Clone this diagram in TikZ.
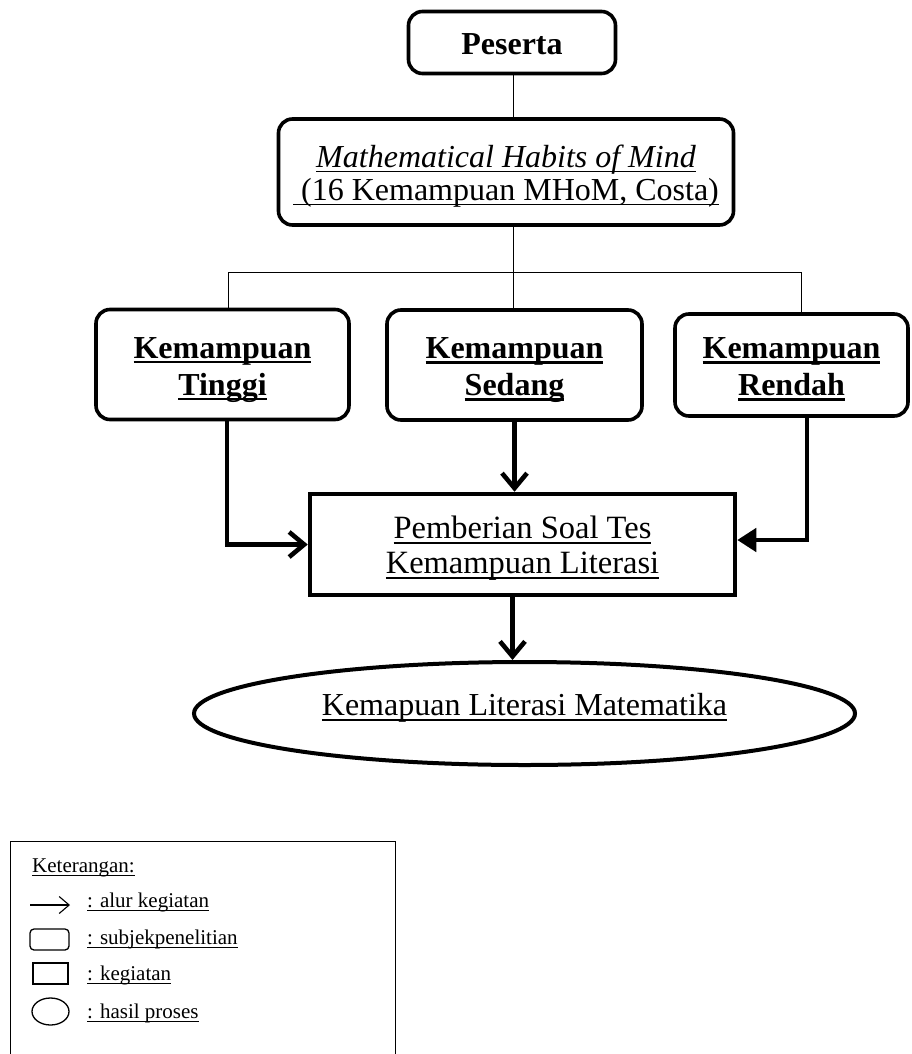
\documentclass[tikz,border=0pt]{standalone}
\usepackage{fontspec}
\setmainfont{Liberation Serif}
\usetikzlibrary{arrows.meta,shapes.geometric}
\newcommand\undl[2][1.6pt]{\leavevmode\setbox0\hbox{#2}\rlap{\copy0}\rule[-0.17em]{\wd0}{#1}}

\begin{document}
\begin{tikzpicture}[x=1pt,y=-1pt,
  subjek/.style={draw,line width=3.6pt,rounded corners=14pt,align=center,inner sep=0pt,text height=68pt,text depth=7pt,font=\fontsize{32}{37}\selectfont\bfseries},
  kegiatan/.style={draw,line width=4.5pt,align=center,inner sep=0pt,text height=64pt,text depth=7pt,font=\fontsize{32.5}{35}\selectfont},
  hasil/.style={draw,ellipse,line width=4pt,inner sep=0pt,text depth=18.5pt,font=\fontsize{32}{35}\selectfont},
  link/.style={line width=0.9pt},
  flow/.style={line width=4.6pt,-{Straight Barb[length=15pt,width=25pt]}},
  flowfill/.style={line width=4.6pt,-{Triangle[length=19pt,width=23pt]}},
  leg/.style={inner sep=0pt,font=\fontsize{21}{24}\selectfont}]
\useasboundingbox (0,0) rectangle (912,1054);
\clip (0,0) rectangle (912,1054);

\node[subjek,text height=30pt,text depth=5.4pt,minimum width=207pt,minimum height=62pt] (peserta) at (512,42.5) {\undl[0pt]{Peserta}};
\node[subjek,text height=63pt,font=\fontsize{32}{33}\selectfont,minimum width=455pt,minimum height=106pt] (mhom) at (506,172)
  {\undl[1.6pt]{\itshape Mathematical Habits of Mind}\\ \undl[1.6pt]{\ (16 Kemampuan MHoM, Costa)}};
\node[subjek,minimum width=253pt,minimum height=110pt] (tinggi) at (222.5,364.5) {\undl[2.8pt]{Kemampuan}\\ \undl[2.8pt]{Tinggi}};
\node[subjek,minimum width=255pt,minimum height=110pt] (sedang) at (514.5,365) {\undl[2.8pt]{Kemampuan}\\ \undl[2.8pt]{Sedang}};
\node[subjek,minimum width=233pt,minimum height=102pt] (rendah) at (791.5,365) {\undl[2.8pt]{Kemampuan}\\ \undl[2.8pt]{Rendah}};
\node[kegiatan,minimum width=425pt,minimum height=101pt] (pemberian) at (522.5,544.5)
  {\undl[1.8pt]{Pemberian Soal Tes}\\ \undl[1.8pt]{Kemampuan Literasi}};
\node[hasil,minimum width=661pt,minimum height=103pt] (literasi) at (524.5,713.5) {\undl[1.8pt]{Kemapuan Literasi Matematika}};

\coordinate (busl) at (228,272);
\coordinate (bus) at (513,272);
\coordinate (busr) at (801,272);
\draw[link] (peserta.south -| bus) -- (mhom.north -| bus);
\draw[link] (mhom.south -| bus) -- (sedang.north -| bus);
\draw[link] (tinggi.north -| busl) -- (busl) -- (busr) -- (rendah.north -| busr);

\draw[flow] ([xshift=4.5pt]tinggi.south) |- (pemberian.west);
\draw[flow] (sedang.south) -- (sedang.south |- pemberian.north);
\draw[flowfill] ([xshift=15.5pt]rendah.south) |- ([yshift=4.5pt]pemberian.east);
\draw[flow] ([xshift=-10pt]pemberian.south) -- ([xshift=-10pt]pemberian.south |- literasi.north);

\node[draw,line width=1.8pt,minimum width=385pt,minimum height=240pt,anchor=north west,inner sep=0pt] (ket) at (9.5,840.5) {};
\node[leg,anchor=base west] (k0) at (32,872) {\undl[1pt]{Keterangan:}};
\coordinate (la) at (30,905);
\coordinate (lb) at (70,905);
\draw[line width=1.1pt,-{Straight Barb[length=10pt,width=17pt]}] (la) -- (lb);
\node[leg,anchor=base west] (k1) at (87,907) {\undl[1pt]{: alur kegiatan}};
\draw[line width=1.3pt,rounded corners=4pt] (30,929) rectangle (69,950);
\node[leg,anchor=base west] (k2) at (87,944) {\undl[1pt]{: subjekpenelitian}};
\draw[line width=1.3pt] (33,963) rectangle (68,984);
\node[leg,anchor=base west] (k3) at (87,980) {\undl[1pt]{: kegiatan}};
\draw[line width=1.3pt] (50.5,1011.5) ellipse (18.5 and 13.5);
\node[leg,anchor=base west] (k4) at (87,1018) {\undl[1pt]{: hasil proses}};
\end{tikzpicture}
\end{document}
